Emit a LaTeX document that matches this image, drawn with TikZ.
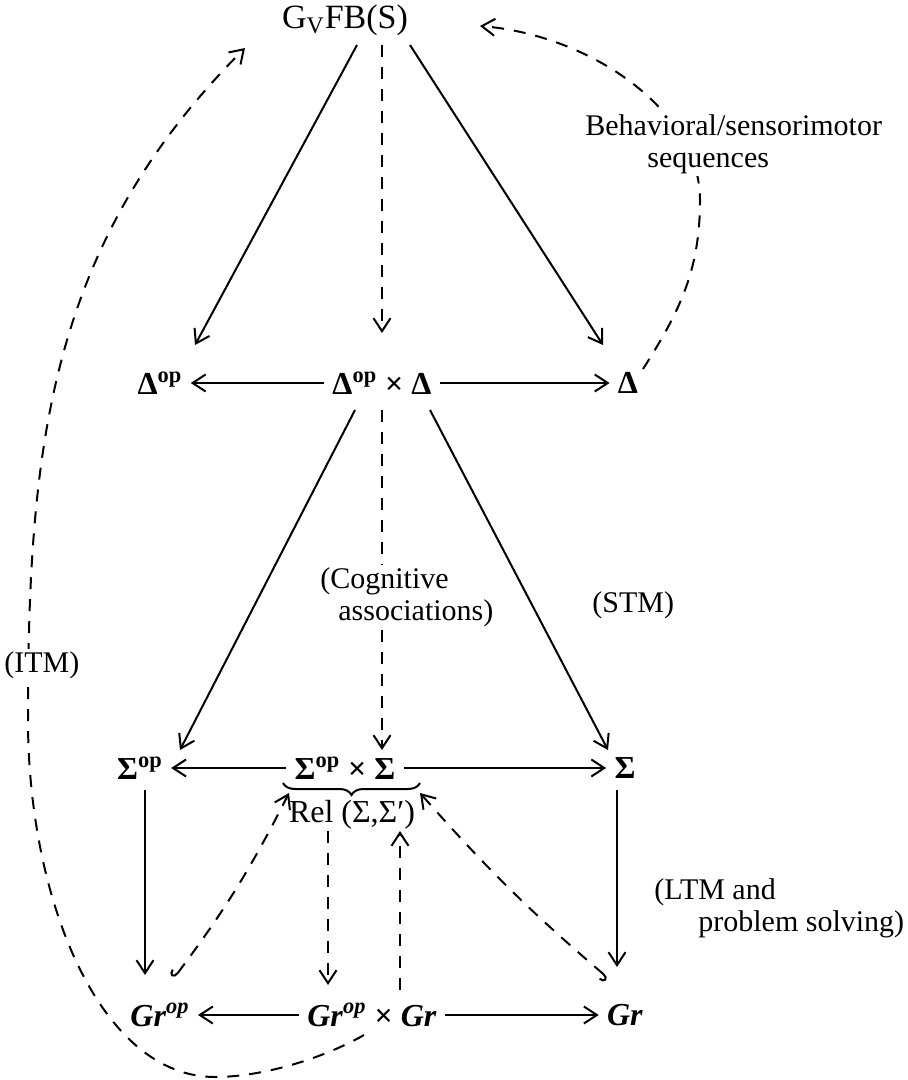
\documentclass[tikz,border=0pt]{standalone}
\usepackage{fontspec}
\setmainfont{Liberation Serif}
\usetikzlibrary{arrows.meta,calc,decorations.pathreplacing}
\begin{document}
\begin{tikzpicture}[x=0.5pt,y=-0.5pt,
  obj/.style={font=\fontsize{16}{18}\selectfont\bfseries, inner sep=2pt},
  lab/.style={font=\fontsize{15}{16}\selectfont, inner sep=1pt},
  arr/.style={line width=1pt, -{Straight Barb[length=6.5pt,width=8.5pt]}},
  harr/.style={arr, shorten <=2pt, shorten >=2pt},
  darr/.style={arr, dash pattern=on 6pt off 5pt},
  hookarr/.style={line width=1pt, dash pattern=on 6pt off 5pt, {Hooks[right,length=3pt,width=7pt]}-{Straight Barb[length=6.5pt,width=8.5pt]}},
  brc/.style={line width=1pt, decorate, decoration={brace, mirror, amplitude=6pt}}
]
\useasboundingbox (0,0) rectangle (908,1080);

% objects
\node[obj, font=\fontsize{17}{20}\selectfont] (G) at (345,20) {G\textsubscript{V}FB(S)};
\node[obj] (Dop) at (160,383) {Δ\textsuperscript{op}};
\node[obj] (D2) at (382,383) {Δ\textsuperscript{op} × Δ};
\node[obj] (D) at (628,383) {Δ};
\node[obj] (Sop) at (140,768) {Σ\textsuperscript{op}};
\node[obj] (S2) at (345,768) {Σ\textsuperscript{op} × Σ};
\node[obj] (S) at (625,768) {Σ};
\node[obj, font=\fontsize{16}{18}\selectfont] (Rel) at (352,815) {Rel (Σ,Σ′)};
\node[obj] (Gop) at (160,1015) {\textit{Gr}\textsuperscript{\textit{op}}};
\node[obj] (G2) at (372,1015) {\textit{Gr}\textsuperscript{\textit{op}} × \textit{Gr}};
\node[obj] (Gr) at (625,1015) {\textit{Gr}};

\coordinate (bl) at (283,783);
\coordinate (br) at (420,783);
\draw[brc] (bl) -- (br);

% top triangle
\draw[arr] ($(G)+(12,25)$) -- ($(Dop)+(35,-38)$);
\draw[darr] ($(G)+(37,25)$) -- ($(D2)+(0,-50)$);
\draw[arr] ($(G)+(65,25)$) -- ($(D)+(-25,-38)$);
\draw[harr] (D2.west) -- (Dop.east);
\draw[harr] (D2.east) -- (D.west);

% middle
\draw[arr] ($(D2)+(-27,27)$) -- ($(Sop)+(40,-18)$);
\draw[darr] ($(D2)+(0,27)$) -- ($(S2)+(37,-18)$);
\draw[arr] ($(D2)+(48,27)$) -- ($(S)+(-17,-18)$);
\draw[harr] (S2.west) -- (Sop.east);
\draw[harr] (S2.east) -- (S.west);

% bottom
\draw[arr] ($(Sop)+(5,22)$) -- ($(Gop)+(-15,-40)$);
\draw[arr] ($(S)+(-8,22)$) -- ($(Gr)+(-8,-48)$);
\draw[hookarr] ($(Gop)+(14,-37)$) to[bend right=5] ($(bl)+(6,10)$);
\draw[hookarr] ($(Gr)+(-17,-37)$) to[bend left=4] ($(br)+(0,10)$);
\draw[darr] ($(Rel)+(-24,16)$) -- ($(G2)+(-44,-30)$);
\draw[darr] ($(G2)+(28,-25)$) -- ($(Rel)+(48,16)$);
\draw[harr] (G2.west) -- (Gop.east);
\draw[harr] (G2.east) -- (Gr.west);

% ITM loop
\coordinate (i1) at (215,1077);
\coordinate (i2) at (28,720);
\draw[darr] ($(G2)+(-8,20)$) .. controls (320,1060) and (260,1077) .. (i1)
  .. controls (100,1077) and (28,900) .. (i2)
  .. controls (28,444) and (50,243) .. ($(G)+(-100,28)$);

% behavioral loop
\coordinate (b1) at (700,200);
\draw[darr] ($(D)+(15,-14)$) .. controls (680,311) and (700,270) .. (b1)
  .. controls (700,110) and (590,35) .. ($(G)+(135,6)$);

% labels
\node[lab, fill=white, align=left, anchor=north west] (beh) at (583,112) {Behavioral/sensorimotor\\\hspace*{31pt}sequences};
\node[lab, anchor=west] (stm) at (590,605) {(STM)};
\node[lab, fill=white, align=left, anchor=north west] (cog) at (318,565) {(Cognitive\\\hspace*{9pt}associations)};
\node[lab, fill=white, anchor=west] (itm) at (2,665) {(ITM)};
\node[lab, align=left, anchor=north west] (ltm) at (652,876) {(LTM and\\\hspace*{22pt}problem solving)};
\end{tikzpicture}
\end{document}
